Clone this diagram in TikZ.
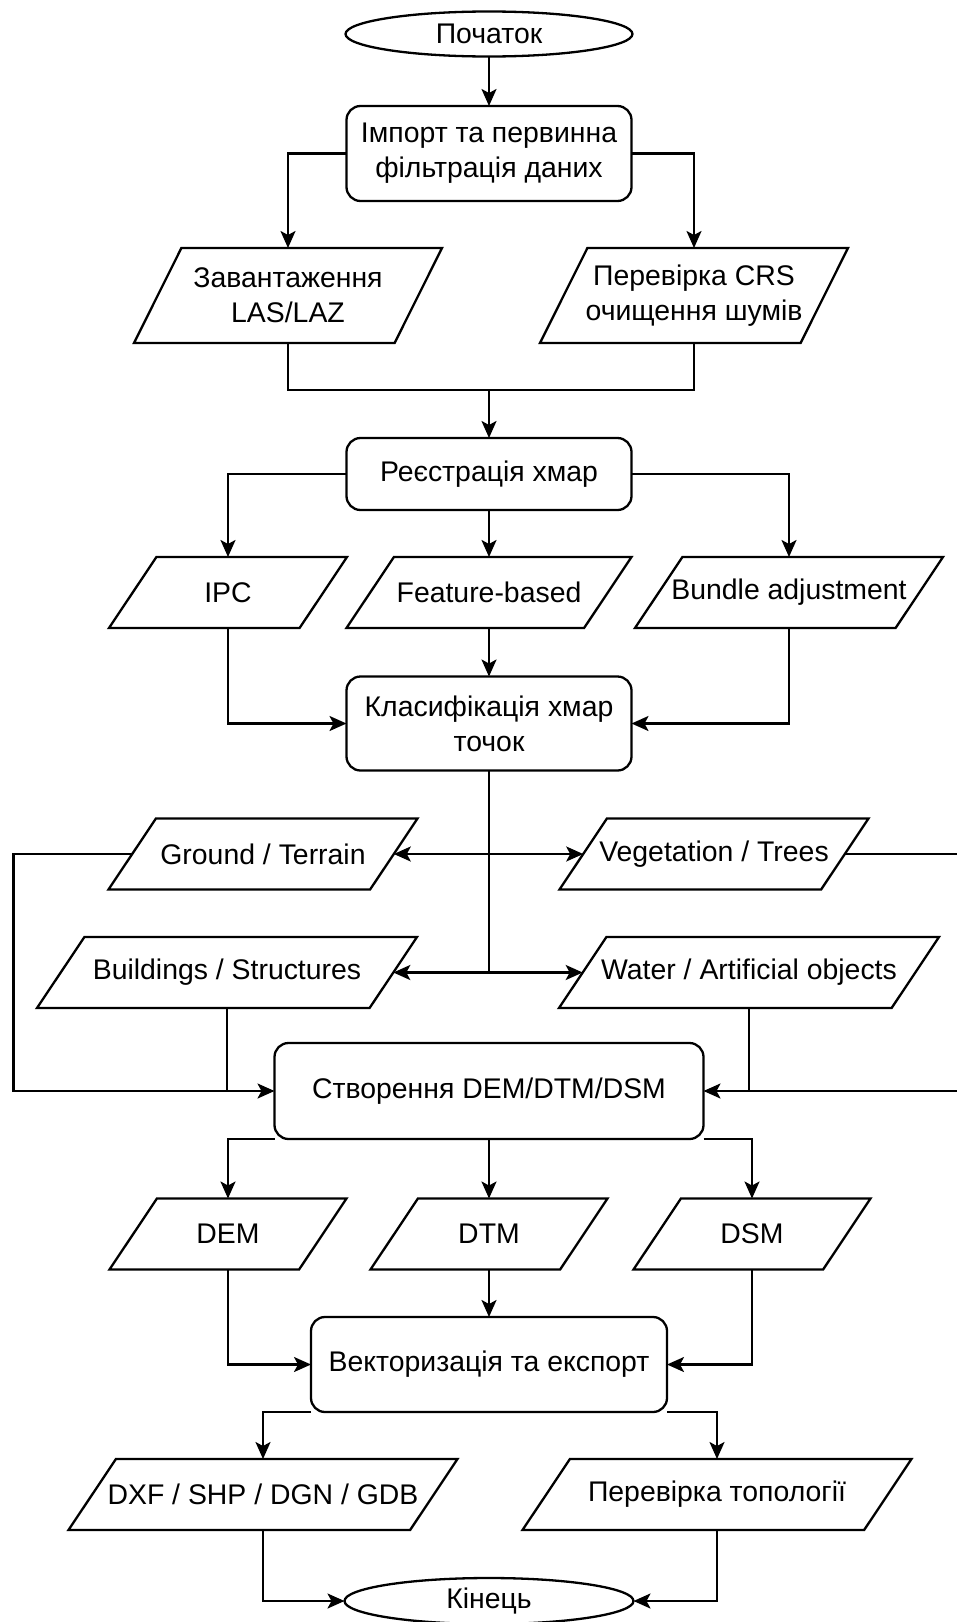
\documentclass[tikz,border=0pt]{standalone}
\usepackage{fontspec}
\setmainfont{Liberation Sans}
\usetikzlibrary{shapes.geometric, arrows.meta}

\begin{document}
\begin{tikzpicture}[x=1pt, y=-1pt,
  every node/.style = {font=\fontsize{28.4}{35}\selectfont, align=center, inner sep=0pt, outer sep=0pt},
  line/.style = {line width=2.3pt},
  arrow/.style = {line, -{Stealth[length=17pt, width=15pt, inset=4pt]}},
  proc/.style = {draw, line width=2.3pt, rectangle, rounded corners=14pt, minimum width=285pt},
  term/.style = {draw, line width=2.3pt, ellipse, minimum width=287pt, minimum height=45pt},
  io/.style = {rectangle, minimum height=71pt}]
\useasboundingbox (0,0) rectangle (956,1622);

\node[term] (start) at (489,34) {Початок};
\node[proc, minimum height=95pt] (import) at (489,153.5) {Імпорт та первинна\\фільтрація даних};
\node[io, minimum width=260.6pt, minimum height=95pt] (las) at (288,295.5) {Завантаження\\LAS/LAZ};
\node[io, minimum width=260.6pt, minimum height=95pt] (crs) at (694,295.5) {Перевірка CRS\\очищення шумів};
\coordinate (join) at (489,390);
\node[proc, minimum height=72pt] (reg) at (489,474) {Реєстрація хмар};
\node[io, minimum width=190.6pt] (ipc) at (228,592.5) {IPC};
\node[io, minimum width=237.6pt] (feat) at (489,592.5) {Feature-based};
\node[io, minimum width=260.6pt] (ba) at (789,592.5) {Bundle adjustment};
\node[proc, minimum height=94pt] (cls) at (489,723.5) {Класифікація хмар\\точок};
\coordinate (split1) at (489,854);
\coordinate (split2) at (489,972.5);
\node[io, minimum width=261.6pt] (ground) at (263,854) {Ground / Terrain};
\node[io, minimum width=261.6pt] (veg) at (714,854) {Vegetation / Trees};
\node[io, minimum width=332.6pt] (build) at (227,972.5) {Buildings / Structures};
\node[io, minimum width=332.6pt] (water) at (749,972.5) {Water / Artificial objects};
\node[proc, minimum width=429pt, minimum height=96pt] (model) at (489,1091) {Створення DEM/DTM/DSM};
\coordinate (lbus) at (13.5,1091);
\coordinate (rbus) at (962,1091);
\node[io, minimum width=189.6pt] (dem) at (228,1234) {DEM};
\node[io, minimum width=189.6pt] (dtm) at (489,1234) {DTM};
\node[io, minimum width=189.6pt] (dsm) at (752,1234) {DSM};
\node[proc, minimum width=356pt, minimum height=95pt] (vect) at (489,1364.5) {Векторизація та експорт};
\node[io, minimum width=341.6pt] (cad) at (263,1494.5) {DXF / SHP / DGN / GDB};
\node[io, minimum width=341.6pt] (topo) at (717,1494.5) {Перевірка топології};
\node[term, minimum width=289pt, minimum height=46pt] (stop) at (489,1601) {Кінець};

% slanted data boxes
\foreach \n in {las,crs,ipc,feat,ba,ground,veg,build,water,dem,dtm,dsm,cad,topo}
  \draw[line] ([xshift=23.7pt]\n.north west) -- ([xshift=23.7pt]\n.north east)
    -- ([xshift=-23.7pt]\n.south east) -- ([xshift=-23.7pt]\n.south west) -- cycle;

\draw[arrow] (start) -- (import);
\draw[arrow] (import.west) -| (las.north);
\draw[arrow] (import.east) -| (crs.north);
\draw[line] (las.south) |- (join) -| (crs.south);
\draw[arrow] (join) -- (reg);
\draw[arrow] (reg.west) -| (ipc.north);
\draw[arrow] (reg) -- (feat);
\draw[arrow] (reg.east) -| (ba.north);
\draw[arrow] (ipc.south) |- (cls.west);
\draw[arrow] (feat) -- (cls);
\draw[arrow] (ba.south) |- (cls.east);
\draw[line] (cls.south) -- (split2);
\draw[arrow] (split1) -- (ground.east);
\draw[arrow] (split1) -- (veg.west);
\draw[arrow] (split2) -- (build.east);
\draw[arrow] (split2) -- (water.west);
\draw[arrow] (ground.west) -| (lbus) -- (model.west);
\draw[line] (build.south) -- (build.south |- model.west);
\draw[arrow] (veg.east) -| (rbus) -- (model.east);
\draw[line] (water.south) -- (water.south |- model.east);
\draw[arrow] (model.south west) -| (dem.north);
\draw[arrow] (model) -- (dtm);
\draw[arrow] (model.south east) -| (dsm.north);
\draw[arrow] (dem.south) |- (vect.west);
\draw[arrow] (dtm) -- (vect);
\draw[arrow] (dsm.south) |- (vect.east);
\draw[arrow] (vect.south west) -| (cad.north);
\draw[arrow] (vect.south east) -| (topo.north);
\draw[arrow] (cad.south) |- (stop.west);
\draw[arrow] (topo.south) |- (stop.east);
%\draw[arrow] (stop) -- (start);
\end{tikzpicture}
\end{document}
